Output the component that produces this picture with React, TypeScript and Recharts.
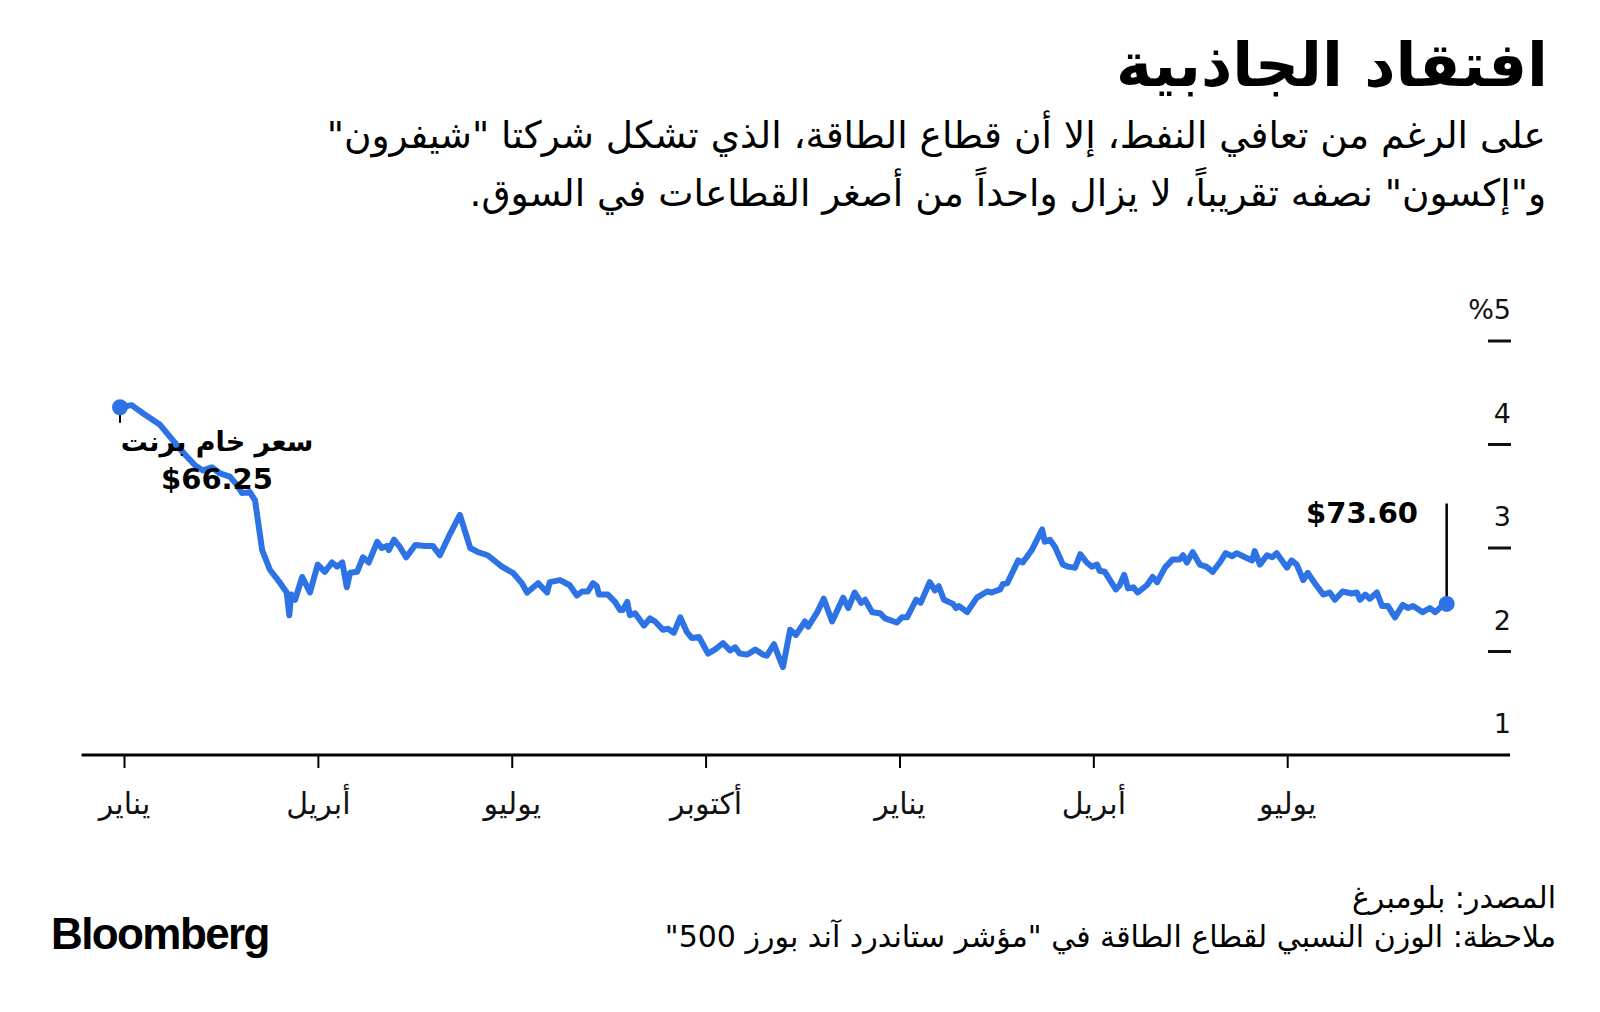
import React from 'react'
import { LineChart, Line, XAxis, YAxis, ReferenceDot, ReferenceLine } from 'recharts'

// x in months since the first January, y = energy weight in %
const months = [
  -0.07, 0.11, 0.29, 0.55, 0.75, 0.91, 1.09, 1.21, 1.35, 1.48, 1.63, 1.74, 1.82, 1.94, 2.02, 2.07, 2.13, 2.25, 2.41, 2.51,
  2.55, 2.58, 2.64, 2.75, 2.87, 2.99, 3.1, 3.21, 3.29, 3.37, 3.44, 3.49, 3.6, 3.69, 3.78, 3.91, 3.98, 4.06, 4.09, 4.17,
  4.26, 4.36, 4.5, 4.65, 4.77, 4.88, 5.04, 5.19, 5.35, 5.47, 5.62, 5.84, 6.01, 6.15, 6.23, 6.4, 6.54, 6.58, 6.74, 6.89,
  7.0, 7.08, 7.17, 7.25, 7.31, 7.34, 7.48, 7.59, 7.67, 7.71, 7.78, 7.82, 7.9, 8.04, 8.13, 8.21, 8.33, 8.41, 8.5, 8.6,
  8.7, 8.78, 8.89, 9.03, 9.14, 9.26, 9.37, 9.45, 9.52, 9.63, 9.69, 9.76, 9.88, 9.94, 10.05, 10.13, 10.19, 10.3, 10.39, 10.53,
  10.58, 10.72, 10.82, 10.95, 11.12, 11.2, 11.3, 11.4, 11.46, 11.57, 11.69, 11.77, 11.95, 12.03, 12.11, 12.25, 12.32, 12.46, 12.54, 12.6,
  12.68, 12.82, 12.87, 12.91, 13.04, 13.19, 13.35, 13.42, 13.55, 13.59, 13.66, 13.83, 13.9, 14.04, 14.2, 14.24, 14.32, 14.4, 14.52, 14.6,
  14.71, 14.79, 14.89, 14.97, 15.05, 15.09, 15.17, 15.25, 15.34, 15.4, 15.47, 15.53, 15.61, 15.68, 15.82, 15.91, 15.98, 16.1, 16.22, 16.33,
  16.38, 16.44, 16.53, 16.64, 16.74, 16.84, 16.95, 17.04, 17.14, 17.21, 17.34, 17.45, 17.49, 17.57, 17.68, 17.76, 17.83, 17.91, 17.99, 18.06,
  18.14, 18.24, 18.31, 18.42, 18.55, 18.65, 18.73, 18.85, 18.99, 19.07, 19.12, 19.2, 19.27, 19.38, 19.46, 19.55, 19.66, 19.78, 19.86, 19.94,
  20.09, 20.2, 20.28, 20.39, 20.46,
]
const weight = [
  4.36, 4.38, 4.3, 4.19, 4.04, 3.92, 3.8, 3.75, 3.78, 3.72, 3.69, 3.61, 3.53, 3.54, 3.46, 3.24, 2.98, 2.79, 2.66, 2.57,
  2.35, 2.55, 2.5, 2.72, 2.57, 2.84, 2.77, 2.86, 2.82, 2.86, 2.62, 2.76, 2.77, 2.91, 2.86, 3.06, 3.0, 3.02, 2.98, 3.08,
  3.01, 2.91, 3.03, 3.02, 3.02, 2.93, 3.14, 3.32, 3.0, 2.96, 2.93, 2.82, 2.76, 2.66, 2.57, 2.66, 2.57, 2.67, 2.69, 2.64,
  2.54, 2.58, 2.58, 2.66, 2.63, 2.55, 2.55, 2.48, 2.4, 2.4, 2.48, 2.35, 2.37, 2.25, 2.32, 2.29, 2.21, 2.22, 2.18, 2.33,
  2.19, 2.13, 2.14, 1.98, 2.02, 2.08, 2.01, 2.04, 1.98, 1.97, 1.99, 2.02, 1.97, 1.96, 2.07, 1.94, 1.85, 2.21, 2.16, 2.29,
  2.24, 2.38, 2.51, 2.29, 2.52, 2.42, 2.57, 2.47, 2.5, 2.38, 2.37, 2.32, 2.28, 2.33, 2.33, 2.5, 2.47, 2.67, 2.59, 2.63,
  2.5, 2.46, 2.42, 2.44, 2.38, 2.52, 2.58, 2.57, 2.6, 2.65, 2.66, 2.88, 2.86, 2.98, 3.18, 3.06, 3.08, 3.01, 2.84, 2.82,
  2.81, 2.94, 2.86, 2.82, 2.84, 2.78, 2.77, 2.69, 2.6, 2.64, 2.74, 2.61, 2.62, 2.57, 2.64, 2.72, 2.67, 2.81, 2.89, 2.89,
  2.93, 2.86, 2.96, 2.84, 2.82, 2.77, 2.86, 2.95, 2.92, 2.95, 2.91, 2.88, 2.97, 2.84, 2.93, 2.91, 2.95, 2.88, 2.81, 2.88,
  2.84, 2.69, 2.76, 2.66, 2.55, 2.57, 2.5, 2.58, 2.56, 2.57, 2.5, 2.55, 2.51, 2.57, 2.44, 2.44, 2.33, 2.45, 2.42, 2.44,
  2.38, 2.42, 2.38, 2.44, 2.46,
]

const monthTicks = [0, 3, 6, 9, 12, 15, 18]
const monthLabels = ['يناير', 'أبريل', 'يوليو', 'أكتوبر', 'يناير', 'أبريل', 'يوليو']
const weightTicks = [1, 2, 3, 4, 5]

const brentLabel = 'سعر خام برنت'
const brentStart = '$66.25'
const brentEnd = '$73.60'

const title = 'افتقاد الجاذبية'
const subtitle = [
  'على الرغم من تعافي النفط، إلا أن قطاع الطاقة، الذي تشكل شركتا "شيفرون"',
  'و"إكسون" نصفه تقريباً، لا يزال واحداً من أصغر القطاعات في السوق.',
]
const source = 'المصدر: بلومبرغ'
const note = 'ملاحظة: الوزن النسبي لقطاع الطاقة في "مؤشر ستاندرد آند بورز 500"'

const blue = '#2d73e6'
const ar = "'DejaVu Sans', sans-serif"

const data = months.map((m, i) => ({ m, v: weight[i] }))
const last = months.length - 1

const MonthTick = (props: any) => {
  const { x, y, payload } = props
  const i = monthTicks.indexOf(payload.value)
  return (
    <text x={x} y={y + 46} textAnchor="middle" fontSize={30} fill="#111" fontFamily={ar}>
      {monthLabels[i]}
    </text>
  )
}

const WeightTick = (props: any) => {
  const { x, y, payload } = props
  const v = payload.value
  const right = x + 1
  return (
    <g>
      {v > 1 && <line x1={right - 23} x2={right} y1={y} y2={y} stroke="#111" strokeWidth={3} />}
      <text x={right} y={y - 22} textAnchor="end" fontSize={27} fill="#111" fontFamily={ar}>
        {v === 5 ? '%5' : String(v)}
      </text>
    </g>
  )
}

const abs = (s: React.CSSProperties): React.CSSProperties => ({ position: 'absolute', ...s })

export default function App() {
  return (
    <div style={abs({ left: 0, top: 0, width: 1600, height: 1012, background: '#fff', overflow: 'hidden', fontFamily: ar, color: '#000' })}>
      <div style={abs({ left: 0, top: 0 })}>
        <LineChart width={1600} height={1012} data={data} margin={{ top: 341, right: 89, bottom: 197, left: 81.6 }}>
          <XAxis
            dataKey="m"
            type="number"
            domain={[-0.664, 21.44]}
            allowDataOverflow
            ticks={monthTicks}
            interval={0}
            height={60}
            axisLine={{ stroke: '#000', strokeWidth: 3 }}
            tickLine={{ stroke: '#000', strokeWidth: 2 }}
            tickSize={13}
            tickMargin={0}
            tick={<MonthTick />}
          />
          <YAxis
            orientation="right"
            type="number"
            domain={[1, 5]}
            ticks={weightTicks}
            interval={0}
            width={1}
            axisLine={false}
            tickLine={false}
            tickSize={0}
            tickMargin={0}
            tick={<WeightTick />}
          />
          <Line
            dataKey="v"
            type="linear"
            stroke={blue}
            strokeWidth={6}
            strokeLinejoin="round"
            strokeLinecap="round"
            dot={false}
            isAnimationActive={false}
          />
          <ReferenceLine
            segment={[{ x: months[0], y: weight[0] }, { x: months[0], y: 4.21 }]}
            stroke="#000"
            strokeWidth={2}
          />
          <ReferenceLine
            segment={[{ x: months[last], y: weight[last] }, { x: months[last], y: 3.43 }]}
            stroke="#000"
            strokeWidth={2.5}
          />
          <ReferenceDot x={months[0]} y={weight[0]} r={8} fill={blue} stroke="none" />
          <ReferenceDot x={months[last]} y={weight[last]} r={8} fill={blue} stroke="none" />
        </LineChart>
      </div>

      <div style={abs({ right: 52, top: 28, fontSize: 61, fontWeight: 700, lineHeight: '74px', direction: 'rtl', whiteSpace: 'nowrap' })}>
        {title}
      </div>
      {subtitle.map((line, i) => (
        <div
          key={i}
          style={abs({ right: 54, top: 106 + i * 58, fontSize: 37.5, lineHeight: '58px', direction: 'rtl', whiteSpace: 'nowrap' })}
        >
          {line}
        </div>
      ))}

      <div style={abs({ left: 67, width: 300, top: 422, fontSize: 27, fontWeight: 700, lineHeight: '40px', textAlign: 'center', direction: 'rtl', whiteSpace: 'nowrap' })}>
        {brentLabel}
      </div>
      <div style={abs({ left: 117, width: 200, top: 459, fontSize: 29, fontWeight: 700, lineHeight: '40px', textAlign: 'center' })}>
        {brentStart}
      </div>
      <div style={abs({ right: 182, top: 493, fontSize: 29, fontWeight: 700, lineHeight: '40px', textAlign: 'right' })}>
        {brentEnd}
      </div>

      <div style={abs({ left: 51, top: 910, fontFamily: "'Liberation Sans', sans-serif", fontSize: 44, fontWeight: 700, letterSpacing: -1.6, lineHeight: '48px' })}>
        Bloomberg
      </div>
      <div style={abs({ right: 44, top: 880, fontSize: 30, lineHeight: '36px', direction: 'rtl', whiteSpace: 'nowrap' })}>
        {source}
      </div>
      <div style={abs({ right: 44, top: 919, fontSize: 30, lineHeight: '36px', direction: 'rtl', whiteSpace: 'nowrap' })}>
        {note}
      </div>
    </div>
  )
}
